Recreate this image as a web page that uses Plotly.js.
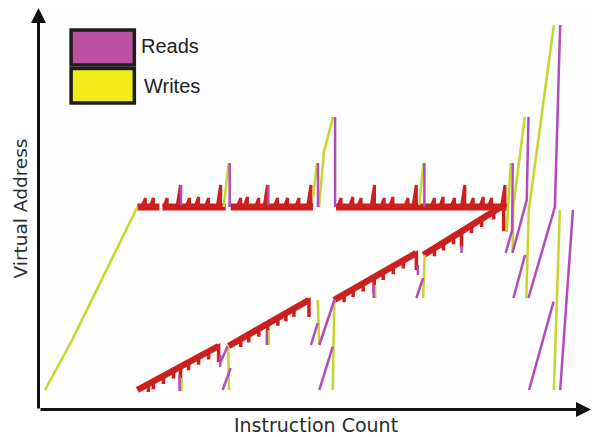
<!DOCTYPE html>
<html>
<head>
<meta charset="utf-8">
<script src="https://cdn.plot.ly/plotly-3.0.1.min.js"></script>
<style>html,body{margin:0;padding:0;background:#fff;}#chart{width:592px;height:437px;}</style>
</head>
<body>
<div id="chart"></div>
<script>
// ---------- data (instruction count on x, virtual address on y) ----------
// Writes: separate strokes split by null
const writesX = [7,34,99,null,185,190,null,274,278,null,280,285,294,null,380,384,null,467,471,null,473,473.5,485,null,486.5,489,514,null,520,514,null,189.5,190.3,null,278.7,280.3,null,295.3,293.7,null,385.3,383.7,null,143,143,null,230,230,null,336,336];
const writesY = [19,69,202,null,202,246,null,212,246,null,202,257,292,null,204,246,null,177,246,null,157,202,292,null,111,199,384,null,199,19,null,62,19,null,109,64,null,109,19,null,154,111,null,31,18,null,79,64,null,124,111];

// Reads: separate strokes split by null
const readsX = [191,191,null,279,279,null,296,296,null,385,385,null,473,472.5,466,null,488.7,487,472.7,null,520.3,515,488.7,null,533,520.3,null,513.7,489.3,null,485.3,473.7,null,142.5,142.5,null,229.5,229.5,null,182,189,null,184,192,null,272,278.7,null,280.3,295.3,null,280.3,293.7,null,377,383.7,null,141,141,null,228,228,null,181.5,181.5,null,378.5,378.5,null,422,422,null,334.5,334.5];
const readsY = [246,202,null,246,202,null,292,202,null,246,202,null,246,179,156,null,292,209,156,null,384,202,111,null,199,19,null,107.3,19,null,154,111,null,224,204,null,224,204,null,47,63,null,19,41,null,64,86,null,64,109,null,19,62.3,null,111,131,null,34,18,null,79,64,null,54,42,null,144,134,null,164,156,null,124,111];

// Upper band (read+write overlap): flat level with periodic spikes
const topLevel = 202;
const topSegStart = [99,124,192,297];
const topSegEnd = [121,187,274,467];
const topSpikeX = [107,115,128.7,142,151,160,170,182,202,208.7,220,228.7,238.7,248.7,260,272,302,313.7,322,335.3,345,353.7,368.7,377,395,403.7,415,425.3,433.7,443.7,452,465.3];
const topSpikeY = [211,211,211,224,211,212,211,224,211,212,211,224,211,211,211,224,211,212,211,224,211,212,211,224,211,212,211,224,211,212,211,224];

// Lower band (read+write overlap): rising strokes with downward drips
const lowStartX = [99,190,295,384];
const lowStartY = [19,63,109,154];
const lowEndX = [180,270,377,466];
const lowEndY = [63,109,156,205];
const lowDripX = [110,115,125,135,142,150,160,170,180,202,210,220,229,239,247,255,270,305,314,324,335,344,354,364,377,395,404,414,422,432,442,454,464];
const lowDripDepth = [8,8,8,8,17,8,8,8,16,8,8,8,16,8,8,8,17,8,8,8,16,8,8,8,17,8,8,8,16,8,8,8,26];

// ---------- build traces ----------
const bandX = [], bandY = [], spikeX = [], spikeY = [];
for (let s = 0; s < topSegStart.length; s++) {
  bandX.push(topSegStart[s], topSegEnd[s], null); bandY.push(topLevel, topLevel, null);
  for (let k = 0; k < topSpikeX.length; k++) {
    const sx = topSpikeX[k];
    if (sx > topSegStart[s] + 2 && sx <= topSegEnd[s]) {
      spikeX.push(sx - 3.5, sx, sx, null); spikeY.push(topLevel, topSpikeY[k], topLevel, null);
    }
  }
}
const lowX = [], lowY = [], dripX = [], dripY = [];
for (let s = 0; s < lowStartX.length; s++) {
  const x0 = lowStartX[s], y0 = lowStartY[s], x1 = lowEndX[s], y1 = lowEndY[s];
  const slope = (y1 - y0) / (x1 - x0);
  lowX.push(x0, x1, null); lowY.push(y0, y1, null);
  for (let k = 0; k < lowDripX.length; k++) {
    const dx = lowDripX[k];
    if (dx > x0 && dx <= x1) {
      const yy = y0 + slope * (dx - x0);
      dripX.push(dx - 2, dx, dx, null); dripY.push(yy - slope * 2, yy, yy - lowDripDepth[k], null);
    }
  }
}

const RED = 'rgb(204,32,30)';
const WCOL = 'rgb(198,214,44)';
const RCOL = 'rgb(178,74,190)';

const traces = [
  {x: bandX, y: bandY, type: 'scatter', mode: 'lines', line: {color: RED, width: 7}, hoverinfo: 'skip', showlegend: false},
  {x: spikeX, y: spikeY, type: 'scatter', mode: 'lines', line: {color: RED, width: 3}, hoverinfo: 'skip', showlegend: false},
  {x: lowX, y: lowY, type: 'scatter', mode: 'lines', line: {color: RED, width: 6.5}, hoverinfo: 'skip', showlegend: false},
  {x: dripX, y: dripY, type: 'scatter', mode: 'lines', line: {color: RED, width: 3.5}, hoverinfo: 'skip', showlegend: false},
  {x: writesX, y: writesY, type: 'scatter', mode: 'lines', name: 'Writes', line: {color: WCOL, width: 2.5}, showlegend: false},
  {x: readsX, y: readsY, type: 'scatter', mode: 'lines', name: 'Reads', line: {color: RCOL, width: 2.5}, showlegend: false}
];

const layout = {
  width: 592, height: 437,
  margin: {l: 40, r: 0, t: 9, b: 29},
  paper_bgcolor: '#ffffff', plot_bgcolor: '#fefdfd',
  showlegend: false,
  xaxis: {range: [2, 552], showgrid: false, zeroline: false, showticklabels: false, ticks: '', showline: false, fixedrange: true,
          title: {text: 'Instruction Count', font: {family: 'DejaVu Sans', size: 19, color: '#2b2b2b'}, standoff: 10}},
  yaxis: {range: [1, 400], showgrid: false, zeroline: false, showticklabels: false, ticks: '', showline: false, fixedrange: true,
          title: {text: 'Virtual Address', font: {family: 'DejaVu Sans', size: 18.5, color: '#2b2b2b'}, standoff: 6}},
  shapes: [
    {type: 'rect', xref: 'x', yref: 'y', x0: 33, x1: 96, y0: 344, y1: 379, fillcolor: 'rgb(185,80,160)', line: {color: '#1e1e1e', width: 3.5}},
    {type: 'rect', xref: 'x', yref: 'y', x0: 33, x1: 96, y0: 306, y1: 340.5, fillcolor: 'rgb(242,236,26)', line: {color: '#1e1e1e', width: 3.5}}
  ],
  annotations: [
    {xref: 'x', yref: 'y', x: 101, y: 363, text: 'Reads', showarrow: false, xanchor: 'left', yanchor: 'middle', font: {family: 'Liberation Sans, Arial', size: 20, color: '#222'}},
    {xref: 'x', yref: 'y', x: 104, y: 323, text: 'Writes', showarrow: false, xanchor: 'left', yanchor: 'middle', font: {family: 'Liberation Sans, Arial', size: 20, color: '#222'}},
    {xref: 'paper', yref: 'paper', x: -1.5/550, y: 1 + 1/399, text: '', showarrow: true, ax: 0, ay: 402, arrowhead: 2, arrowsize: 1, arrowwidth: 3, arrowcolor: '#111', standoff: 0},
    {xref: 'paper', yref: 'paper', x: 551/550, y: -1.5/399, text: '', showarrow: true, ax: -554, ay: 0, arrowhead: 2, arrowsize: 1, arrowwidth: 3, arrowcolor: '#111', standoff: 0}
  ]
};

Plotly.newPlot('chart', traces, layout, {displayModeBar: false, staticPlot: true});
</script>
</body>
</html>
